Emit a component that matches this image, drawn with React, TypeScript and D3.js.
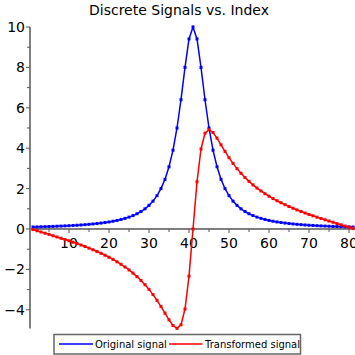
import React from "react";
import * as d3 from "d3";

const indices: number[] = d3.range(1, 82);

// Original signal (Lorentzian-like peak), left half + peak
const originalHalf: number[] = [
  0.099, 0.104, 0.110, 0.116, 0.122, 0.129, 0.137, 0.145, 0.154, 0.164,
  0.175, 0.187, 0.200, 0.215, 0.231, 0.250, 0.270, 0.294, 0.320, 0.350,
  0.385, 0.424, 0.471, 0.525, 0.588, 0.664, 0.755, 0.865, 1.00, 1.17,
  1.38, 1.65, 2.00, 2.46, 3.08, 3.90, 5.00, 6.40, 8.00, 9.41, 10.0,
];
const originalSignal: number[] = [
  ...originalHalf,
  0.941 * 10, 8.00, 6.40, 5.00, 3.90, 3.08, 2.46, 2.00, 1.65, 1.38,
  1.17, 1.00, 0.865, 0.755, 0.664, 0.588, 0.525, 0.471, 0.424, 0.385,
  0.350, 0.320, 0.294, 0.270, 0.250, 0.231, 0.215, 0.200, 0.187, 0.175,
  0.164, 0.154, 0.145, 0.137, 0.129, 0.122, 0.116, 0.110, 0.104, 0.099,
];

const transformedSignal: number[] = [
  -0.029, -0.088, -0.147, -0.207, -0.267, -0.334, -0.395, -0.456, -0.520, -0.585,
  -0.652, -0.721, -0.793, -0.868, -0.946, -1.028, -1.113, -1.203, -1.298, -1.399,
  -1.507, -1.623, -1.746, -1.882, -2.027, -2.184, -2.357, -2.547, -2.758, -2.988,
  -3.247, -3.531, -3.840, -4.168, -4.496, -4.779, -4.921, -4.742, -3.962, -2.334,
  0.0,
  2.334, 3.962, 4.742, 4.921, 4.779, 4.496, 4.168, 3.840, 3.531, 3.247,
  2.988, 2.758, 2.547, 2.357, 2.184, 2.027, 1.882, 1.746, 1.623, 1.507,
  1.399, 1.298, 1.203, 1.113, 1.028, 0.946, 0.868, 0.793, 0.721, 0.652,
  0.585, 0.520, 0.456, 0.395, 0.334, 0.267, 0.207, 0.147, 0.088, 0.029,
];

const xMajorTicks: number[] = [10, 20, 30, 40, 50, 60, 70, 80];
const xMinorTicks: number[] = [5, 15, 25, 35, 45, 55, 65, 75];
const yMajorTicks: number[] = [-4, -2, 0, 2, 4, 6, 8, 10];
const yMinorTicks: number[] = [-3, -1, 1, 3, 5, 7, 9];

const title = "Discrete Signals vs. Index";
const seriesNames: string[] = ["Original signal", "Transformed signal"];
const seriesColors: string[] = ["#0000ff", "#ff0000"];

const W = 355;
const H = 355;
const FONT = "DejaVu Sans, sans-serif";

export default function App() {
  const x = d3.scaleLinear().domain([0.25, 81.25]).range([30, 354]);
  const yMin = d3.min(transformedSignal) as number;
  const yMax = d3.max(originalSignal) as number;
  const y = d3.scaleLinear().domain([yMin, yMax]).range([328.4, 27]);

  const line = d3
    .line<number>()
    .x((_, i) => x(indices[i]))
    .y((d) => y(d));

  const series = [originalSignal, transformedSignal];
  const fmt = (v: number) => (v < 0 ? "\u2212" + Math.abs(v) : String(v));

  return (
    <svg
      width={W}
      height={H}
      style={{ position: "absolute", left: 0, top: 0, background: "#fff" }}
      fontFamily={FONT}
    >
      <rect x={0} y={0} width={W} height={H} fill="#fff" />
      <text x={179} y={14.5} fontSize={14} textAnchor="middle" fill="#000">
        {title}
      </text>

      {/* x axis */}
      <line x1={30} x2={355} y1={y(0)} y2={y(0)} stroke="#000" strokeWidth={1} />
      {xMinorTicks.map((t) => (
        <line key={"xm" + t} x1={x(t)} x2={x(t)} y1={y(0)} y2={y(0) + 3} stroke="#555" strokeWidth={1} />
      ))}
      {xMajorTicks.map((t) => (
        <g key={"xM" + t}>
          <line x1={x(t)} x2={x(t)} y1={y(0)} y2={y(0) + 4} stroke="#555" strokeWidth={1} />
          <text x={x(t)} y={y(0) + 19} fontSize={14} textAnchor="middle" fill="#000">
            {fmt(t)}
          </text>
        </g>
      ))}

      {/* y axis */}
      <line x1={30} x2={30} y1={y(yMax)} y2={y(yMin)} stroke="#808080" strokeWidth={2} />
      {yMinorTicks.map((t) => (
        <line key={"ym" + t} x1={27} x2={30} y1={y(t)} y2={y(t)} stroke="#555" strokeWidth={1} />
      ))}
      {yMajorTicks.map((t) => (
        <g key={"yM" + t}>
          <line x1={26} x2={30} y1={y(t)} y2={y(t)} stroke="#555" strokeWidth={1} />
          <text x={25} y={y(t)} dy="0.36em" fontSize={14} textAnchor="end" fill="#000">
            {fmt(t)}
          </text>
        </g>
      ))}

      {/* series */}
      {series.map((s, si) => (
        <g key={"s" + si}>
          <path d={line(s) || ""} fill="none" stroke={seriesColors[si]} strokeWidth={1.5} />
          {s.map((v, i) => (
            <rect
              key={i}
              x={x(indices[i]) - 1.5}
              y={y(v) - 1.5}
              width={3}
              height={3}
              fill={seriesColors[si]}
            />
          ))}
        </g>
      ))}

      {/* legend */}
      <rect x={54} y={334.5} width={246.5} height={19.5} fill="#fff" stroke="#666" strokeWidth={1.5} />
      <line x1={59} x2={93} y1={344} y2={344} stroke={seriesColors[0]} strokeWidth={1.5} />
      <text x={95} y={347.5} fontSize={10} fill="#000">
        {seriesNames[0]}
      </text>
      <line x1={169} x2={202.5} y1={344} y2={344} stroke={seriesColors[1]} strokeWidth={1.5} />
      <text x={205} y={347.5} fontSize={10} fill="#000">
        {seriesNames[1]}
      </text>
    </svg>
  );
}
